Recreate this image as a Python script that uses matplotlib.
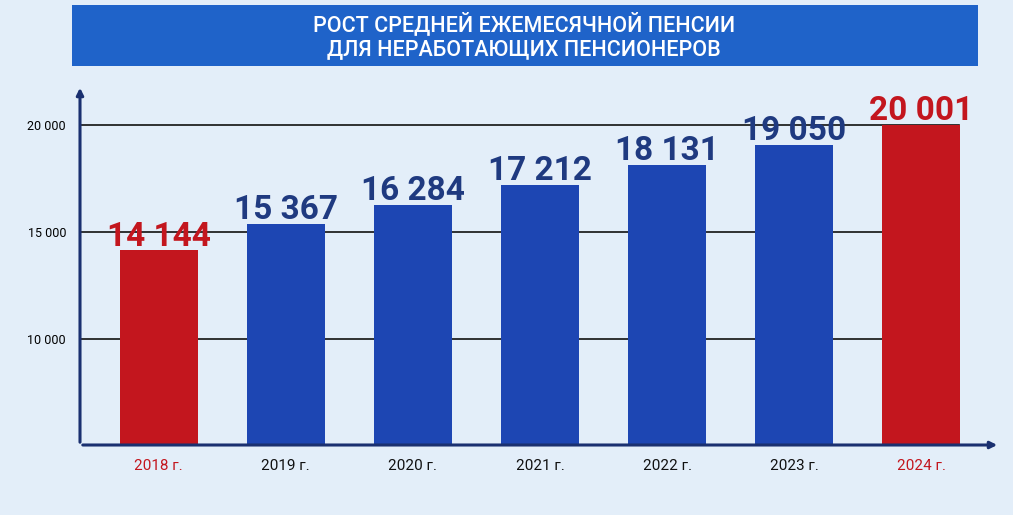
import matplotlib
matplotlib.use("Agg")
import matplotlib.pyplot as plt
from matplotlib.patches import Rectangle

years = ["2018 г.", "2019 г.", "2020 г.", "2021 г.", "2022 г.", "2023 г.", "2024 г."]
values = [14144, 15367, 16284, 17212, 18131, 19050, 20001]
labels = ["14 144", "15 367", "16 284", "17 212", "18 131", "19 050", "20 001"]
highlight = [True, False, False, False, False, False, True]
yticks = [10000, 15000, 20000]
yticklabels = ["10 000", "15 000", "20 000"]

plt.rcParams['font.family'] = ['Roboto', 'DejaVu Sans']
fig = plt.figure(figsize=(10.13, 5.15), dpi=100)
fig.patch.set_facecolor('#e3eef9')

fig.patches.append(Rectangle((72/1013, 1-66/515), 906/1013, 61/515, transform=fig.transFigure,
                             facecolor='#1f63c9', edgecolor='none', zorder=0))
fig.text(0.517, 1-24/515, "РОСТ СРЕДНЕЙ ЕЖЕМЕСЯЧНОЙ ПЕНСИИ", ha='center', va='center',
         color='white', fontsize=15.5, fontweight='medium')
fig.text(0.517, 1-50/515, "ДЛЯ НЕРАБОТАЮЩИХ ПЕНСИОНЕРОВ", ha='center', va='center',
         color='white', fontsize=15.5, fontweight='medium')

ax = fig.add_axes([80/1013, 70/515, 920/1013, 360/515])
ax.set_facecolor('none')
x = list(range(len(years)))
ax.set_xlim(-0.62, 6.62)
ax.set_ylim(5050, 21870)

for yv in yticks:
    ax.plot([-0.62, 6.3], [yv, yv], color='#111111', lw=1.2, zorder=1)

cols = ['#c3161e' if h else '#1d46b3' for h in highlight]
ax.bar(x, [v - 5050 for v in values], bottom=5050, width=0.61, color=cols, zorder=2)

for i, (v, l, h) in enumerate(zip(values, labels, highlight)):
    ax.text(i, v - 100, l, ha='center', va='bottom', fontsize=24, fontweight='bold',
            color='#c3161e' if h else '#1f3a80', zorder=4)

ax.set_xticks(x)
ax.set_xticklabels(years, fontsize=11)
for t, h in zip(ax.get_xticklabels(), highlight):
    t.set_color('#c3161e' if h else '#111111')
ax.set_yticks(yticks)
ax.set_yticklabels(yticklabels, fontsize=9)
ax.tick_params(length=0, pad=10)
for s in ax.spines.values():
    s.set_visible(False)

ax.annotate('', xy=(-0.62, 21870), xytext=(-0.62, 5050),
            arrowprops=dict(arrowstyle='-|>', color='#1a3070', lw=2.2))
ax.annotate('', xy=(6.62, 5050), xytext=(-0.62, 5050),
            arrowprops=dict(arrowstyle='-|>', color='#1a3070', lw=2.2))

fig.savefig('out.png', dpi=100, facecolor=fig.get_facecolor())
